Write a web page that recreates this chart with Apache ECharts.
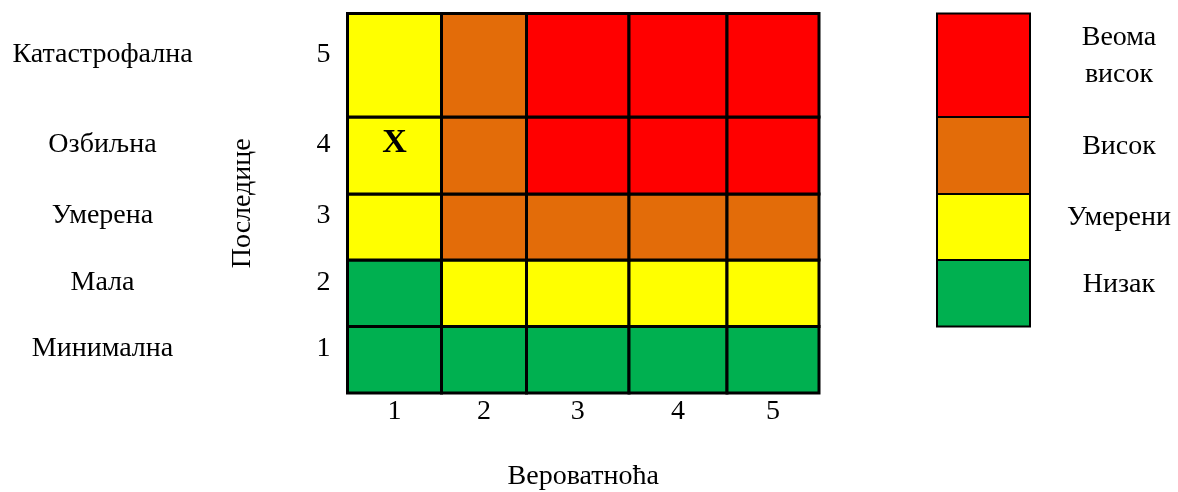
<!DOCTYPE html>
<html>
<head>
<meta charset="utf-8">
<script src="https://cdn.jsdelivr.net/npm/echarts@6/dist/echarts.min.js"></script>
<style>
  html, body { margin: 0; padding: 0; background: #fff; }
  #main { width: 1178px; height: 492px; }
</style>
</head>
<body>
<div id="main"></div>
<script>
var probability = ['1', '2', '3', '4', '5'];
var consequence = ['Минимална', 'Мала', 'Умерена', 'Озбиљна', 'Катастрофална'];
var levels = ['Низак', 'Умерени', 'Висок', 'Веома\nвисок'];
var levelColors = ['#00B050', '#FFFF00', '#E36C09', '#FF0000'];
// risk level of each cell, first row = consequence 1 (bottom)
var riskRows = [
  [0, 0, 0, 0, 0],
  [0, 1, 1, 1, 1],
  [1, 2, 2, 2, 2],
  [1, 2, 3, 3, 3],
  [1, 2, 3, 3, 3]
];
// relative size of each column / row
var colSpan = [94, 85, 102.5, 98, 92];
var rowSpan = [66.5, 66.5, 66, 77, 103.5];
// marked cell: [probability index, consequence index, text]
var marks = [[0, 3, 'X']];

var FONT = "'Liberation Serif', 'Times New Roman', serif";
var FS = 28;
// row labels sit a little above the row middle
var LABEL_LIFT = 11;
var LEGEND_LIFT = 9;

function edges(spans) {
  var e = [0];
  spans.forEach(function (s) { e.push(e[e.length - 1] + s); });
  return e;
}
function centers(e) {
  var c = [];
  for (var i = 0; i < e.length - 1; i++) c.push((e[i] + e[i + 1]) / 2);
  return c;
}
function nearest(list, v) {
  var best = 0;
  list.forEach(function (c, i) {
    if (Math.abs(c - v) < Math.abs(list[best] - v)) best = i;
  });
  return best;
}

var xEdges = edges(colSpan);
var yEdges = edges(rowSpan);
var xMid = centers(xEdges);
var yMid = centers(yEdges);
var yLabelAt = yMid.map(function (v) { return v + LABEL_LIFT; });
var legendLabelAt = yMid.slice(1).map(function (v) { return v + LEGEND_LIFT; });

var cellData = [];
riskRows.forEach(function (row, r) {
  row.forEach(function (lvl, c) {
    cellData.push([c, r, lvl]);
  });
});
// legend block: level i drawn next to consequence row i+1
var legendData = levels.map(function (name, i) { return [0, i + 1, i]; });

function rectItem(params, api, x0, x1, y0, y1, color, lw) {
  var p0 = api.coord([x0, y1]);
  var p1 = api.coord([x1, y0]);
  return {
    type: 'rect',
    shape: { x: p0[0], y: p0[1], width: p1[0] - p0[0], height: p1[1] - p0[1] },
    style: { fill: color, stroke: '#000', lineWidth: lw }
  };
}

var myChart = echarts.init(document.getElementById('main'));

var option = {
  animation: false,
  textStyle: { fontFamily: FONT },
  grid: [
    { left: 347.5, top: 13.5, width: 471.5, height: 379.5, outerBoundsMode: 'none', containLabel: false },
    { left: 937, top: 13.5, width: 93, height: 379.5, outerBoundsMode: 'none', containLabel: false }
  ],
  xAxis: [
    {
      type: 'value', gridIndex: 0, min: 0, max: xEdges[xEdges.length - 1],
      axisLine: { show: false }, axisTick: { show: false }, splitLine: { show: false },
      axisLabel: {
        customValues: xMid, margin: 5,
        color: '#000', fontFamily: FONT, fontSize: FS,
        formatter: function (v) { return probability[nearest(xMid, v)]; }
      },
      name: 'Вероватноћа', nameLocation: 'middle', nameGap: 70,
      nameTextStyle: { color: '#000', fontFamily: FONT, fontSize: FS }
    },
    {
      type: 'value', gridIndex: 1, min: 0, max: 1, show: false
    }
  ],
  yAxis: [
    {
      type: 'value', gridIndex: 0, min: 0, max: yEdges[yEdges.length - 1],
      axisLine: { show: false }, axisTick: { show: false }, splitLine: { show: false },
      axisLabel: {
        customValues: yLabelAt, margin: 17,
        color: '#000', fontFamily: FONT, fontSize: FS,
        formatter: function (v) { return String(nearest(yMid, v) + 1); }
      },
      name: 'Последице', nameLocation: 'middle', nameGap: 91, nameRotate: 90,
      nameTextStyle: { color: '#000', fontFamily: FONT, fontSize: FS }
    },
    {
      type: 'value', gridIndex: 0, min: 0, max: yEdges[yEdges.length - 1],
      position: 'left', offset: 0,
      axisLine: { show: false }, axisTick: { show: false }, splitLine: { show: false },
      axisLabel: {
        customValues: yLabelAt, margin: 245, align: 'center',
        color: '#000', fontFamily: FONT, fontSize: FS,
        formatter: function (v) { return consequence[nearest(yMid, v)]; }
      }
    },
    {
      type: 'value', gridIndex: 1, min: 0, max: yEdges[yEdges.length - 1],
      position: 'right',
      axisLine: { show: false }, axisTick: { show: false }, splitLine: { show: false },
      axisLabel: {
        customValues: legendLabelAt, margin: 89, align: 'center',
        color: '#000', fontFamily: FONT, fontSize: FS, lineHeight: 37,
        formatter: function (v) { return levels[nearest(yMid, v) - 1]; }
      }
    }
  ],
  series: [
    {
      type: 'custom',
      xAxisIndex: 0, yAxisIndex: 0,
      data: cellData,
      renderItem: function (params, api) {
        var c = api.value(0), r = api.value(1), lvl = api.value(2);
        return rectItem(params, api, xEdges[c], xEdges[c + 1], yEdges[r], yEdges[r + 1], levelColors[lvl], 3);
      }
    },
    {
      type: 'custom',
      xAxisIndex: 0, yAxisIndex: 0,
      data: marks,
      z: 5,
      renderItem: function (params, api) {
        var c = api.value(0), r = api.value(1);
        var p = api.coord([xMid[c], yMid[r]]);
        return {
          type: 'text',
          x: p[0], y: p[1] - 12,
          style: {
            text: marks[params.dataIndex][2],
            fill: '#000',
            font: 'bold 34px ' + FONT,
            align: 'center', verticalAlign: 'middle'
          }
        };
      }
    },
    {
      type: 'custom',
      xAxisIndex: 1, yAxisIndex: 2,
      data: legendData,
      renderItem: function (params, api) {
        var r = api.value(1), lvl = api.value(2);
        return rectItem(params, api, 0, 1, yEdges[r], yEdges[r + 1], levelColors[lvl], 2);
      }
    }
  ]
};

myChart.setOption(option);
</script>
</body>
</html>
